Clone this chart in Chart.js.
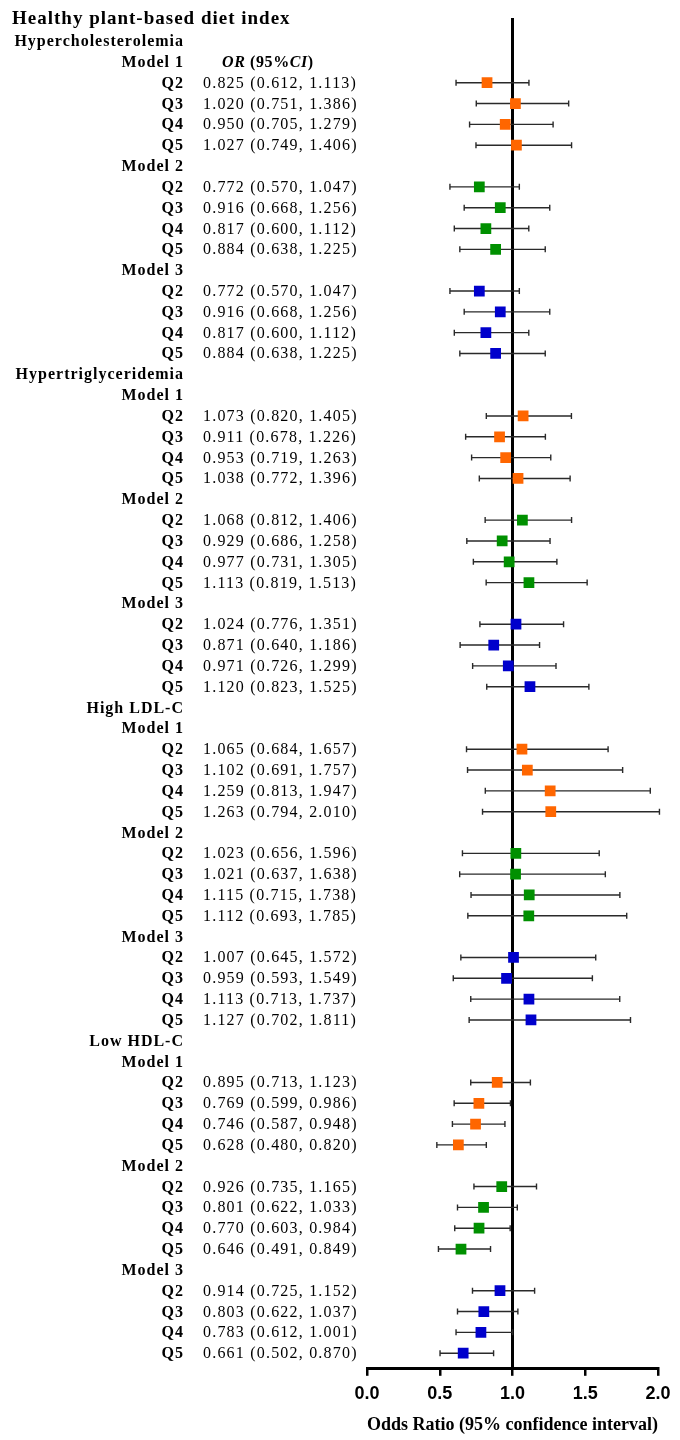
<!DOCTYPE html>
<html>
<head>
<meta charset="utf-8">
<script src="https://cdn.jsdelivr.net/npm/chart.js@4/dist/chart.umd.min.js"></script>
<style>
  html, body { margin: 0; padding: 0; background: #fff; }
  #wrap { width: 680px; height: 1440px; position: relative; }
</style>
</head>
<body>
<div id="wrap"><canvas id="c"></canvas></div>
<script>
// ---- Data ----
const chartTitle = 'Healthy plant-based diet index';
const outcomes = ['Hypercholesterolemia', 'Hypertriglyceridemia', 'High LDL-C', 'Low HDL-C'];
const models = ['Model 1', 'Model 2', 'Model 3'];
const quintiles = ['Q2', 'Q3', 'Q4', 'Q5'];
const xTicks = [0.0, 0.5, 1.0, 1.5, 2.0];
const xAxisTitle = 'Odds Ratio (95% confidence interval)';

// each array: Model 1 Q2..Q5, Model 2 Q2..Q5, Model 3 Q2..Q5
const hcOR   = [0.825, 1.020, 0.950, 1.027, 0.772, 0.916, 0.817, 0.884, 0.772, 0.916, 0.817, 0.884];
const hcLow  = [0.612, 0.751, 0.705, 0.749, 0.570, 0.668, 0.600, 0.638, 0.570, 0.668, 0.600, 0.638];
const hcHigh = [1.113, 1.386, 1.279, 1.406, 1.047, 1.256, 1.112, 1.225, 1.047, 1.256, 1.112, 1.225];

const htOR   = [1.073, 0.911, 0.953, 1.038, 1.068, 0.929, 0.977, 1.113, 1.024, 0.871, 0.971, 1.120];
const htLow  = [0.820, 0.678, 0.719, 0.772, 0.812, 0.686, 0.731, 0.819, 0.776, 0.640, 0.726, 0.823];
const htHigh = [1.405, 1.226, 1.263, 1.396, 1.406, 1.258, 1.305, 1.513, 1.351, 1.186, 1.299, 1.525];

const ldlOR   = [1.065, 1.102, 1.259, 1.263, 1.023, 1.021, 1.115, 1.112, 1.007, 0.959, 1.113, 1.127];
const ldlLow  = [0.684, 0.691, 0.813, 0.794, 0.656, 0.637, 0.715, 0.693, 0.645, 0.593, 0.713, 0.702];
const ldlHigh = [1.657, 1.757, 1.947, 2.010, 1.596, 1.638, 1.738, 1.785, 1.572, 1.549, 1.737, 1.811];

const hdlOR   = [0.895, 0.769, 0.746, 0.628, 0.926, 0.801, 0.770, 0.646, 0.914, 0.803, 0.783, 0.661];
const hdlLow  = [0.713, 0.599, 0.587, 0.480, 0.735, 0.622, 0.603, 0.491, 0.725, 0.622, 0.612, 0.502];
const hdlHigh = [1.123, 0.986, 0.948, 0.820, 1.165, 1.033, 0.984, 0.849, 1.152, 1.037, 1.001, 0.870];

const modelColors = ['#FF6600', '#009000', '#0000CC'];

// ---- Build rows ----
const orSets = [hcOR, htOR, ldlOR, hdlOR];
const lowSets = [hcLow, htLow, ldlLow, hdlLow];
const highSets = [hcHigh, htHigh, ldlHigh, hdlHigh];

const rows = [];
const modelPoints = models.map(() => []);
let r = 0;
outcomes.forEach((o, oi) => {
  rows.push({ label: o, type: 'outcome', y: r++ });
  models.forEach((m, mi) => {
    rows.push({ label: m, type: 'model', y: r++, header: (oi === 0 && mi === 0) });
    quintiles.forEach((q, qi) => {
      const k = mi * 4 + qi;
      const v = orSets[oi][k], lo = lowSets[oi][k], hi = highSets[oi][k];
      rows.push({ label: q, type: 'q', y: r, text: v.toFixed(3) + ' (' + lo.toFixed(3) + ', ' + hi.toFixed(3) + ')' });
      modelPoints[mi].push({ x: v, y: r, lo: lo, hi: hi });
      r++;
    });
  });
});

const SERIF = '"Liberation Serif", "Times New Roman", serif';

const errorBars = {
  id: 'errorBars',
  beforeDatasetsDraw(chart) {
    const { ctx } = chart;
    const xs = chart.scales.x, ys = chart.scales.y;
    ctx.save();
    ctx.strokeStyle = '#2a2a2a';
    ctx.lineWidth = 1.4;
    chart.data.datasets.forEach(ds => {
      ds.data.forEach(p => {
        const y = ys.getPixelForValue(p.y);
        const x1 = xs.getPixelForValue(p.lo), x2 = xs.getPixelForValue(p.hi);
        ctx.beginPath();
        ctx.moveTo(x1, y); ctx.lineTo(x2, y);
        ctx.moveTo(x1, y - 3); ctx.lineTo(x1, y + 3);
        ctx.moveTo(x2, y - 3); ctx.lineTo(x2, y + 3);
        ctx.stroke();
      });
    });
    ctx.restore();
  }
};

const textColumns = {
  id: 'textColumns',
  afterDraw(chart) {
    const { ctx } = chart;
    const ys = chart.scales.y;
    ctx.save();
    ctx.fillStyle = '#000';
    ctx.textBaseline = 'alphabetic';
    ctx.font = 'bold 19px ' + SERIF;
    ctx.letterSpacing = '1px';
    ctx.textAlign = 'left';
    ctx.fillText(chartTitle, 12, ys.getPixelForValue(-1) + 4);
    rows.forEach(row => {
      const y = ys.getPixelForValue(row.y) + 5;
      ctx.font = 'bold 16px ' + SERIF;
      ctx.letterSpacing = '1px';
      ctx.textAlign = 'right';
      ctx.fillText(row.label, 184, y);
      if (row.type === 'q') {
        ctx.font = '16px ' + SERIF;
        ctx.letterSpacing = '1.2px';
        ctx.textAlign = 'left';
        ctx.fillText(row.text, 203, y);
      }
      if (row.header) {
        ctx.textAlign = 'left';
        ctx.letterSpacing = '0.6px';
        let x = 222;
        const parts = [['OR', true], [' (95%', false], ['CI', true], [')', false]];
        parts.forEach(([t, it]) => {
          ctx.font = (it ? 'italic ' : '') + 'bold 16px ' + SERIF;
          ctx.fillText(t, x, y);
          x += ctx.measureText(t).width;
        });
      }
    });
    ctx.restore();
  }
};

new Chart(document.getElementById('c'), {
  type: 'scatter',
  data: {
    datasets: models.map((m, mi) => ({
      label: m,
      data: modelPoints[mi],
      pointStyle: 'rect',
      pointRadius: 7.6,
      pointBackgroundColor: modelColors[mi],
      pointBorderColor: modelColors[mi],
      pointBorderWidth: 0
    }))
  },
  options: {
    responsive: true,
    maintainAspectRatio: false,
    animation: false,
    events: [],
    layout: { padding: { left: 367, right: 22, top: 19, bottom: 0 } },
    plugins: { legend: { display: false }, tooltip: { enabled: false }, title: { display: false } },
    scales: {
      x: {
        type: 'linear',
        min: 0, max: 2,
        afterBuildTicks: (s) => { s.ticks = xTicks.map(v => ({ value: v })); },
        ticks: {
          padding: 7,
          color: '#000',
          font: { family: '"Liberation Sans", Arial, sans-serif', size: 18, weight: 'bold' },
          callback: (v) => Number(v).toFixed(1),
          maxRotation: 0
        },
        grid: { display: true, drawOnChartArea: false, drawTicks: true, tickLength: 7, color: '#000', lineWidth: 2.5 },
        border: { display: true, color: '#000', width: 3 },
        title: {
          display: true,
          text: xAxisTitle,
          color: '#000',
          font: { family: SERIF, size: 18, weight: 'bold' },
          padding: { top: 3, bottom: 4 }
        }
      },
      y: {
        type: 'linear',
        reverse: true,
        min: -1.06, max: 63.75,
        position: { x: 1 },
        ticks: { display: false },
        grid: { display: false },
        border: { display: true, color: '#000', width: 3 }
      }
    }
  },
  plugins: [errorBars, textColumns]
});
</script>
</body>
</html>
